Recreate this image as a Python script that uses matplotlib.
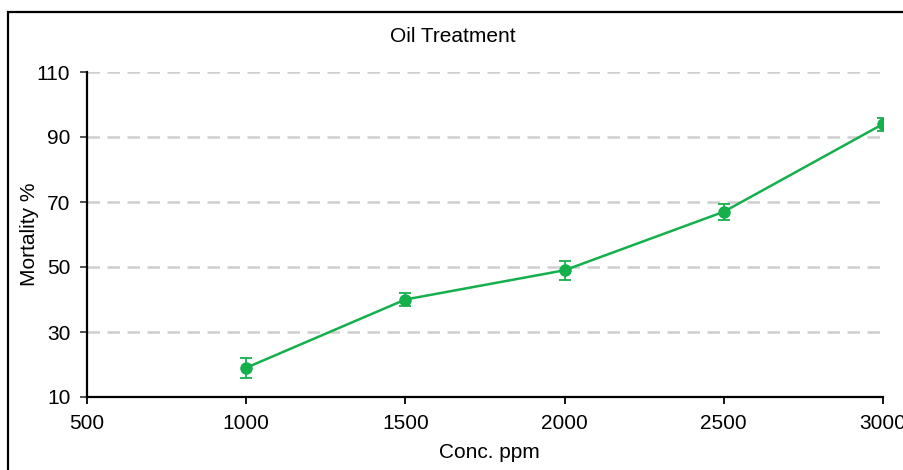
import matplotlib.pyplot as plt
from matplotlib.patches import Rectangle

plt.rcParams['font.family'] = ['Liberation Sans', 'DejaVu Sans']

# data
conc = [1000, 1500, 2000, 2500, 3000]
mortality = [19, 40, 49, 67, 94]
err = [3, 2, 3, 2.5, 2]
yticks = [10, 30, 50, 70, 90, 110]
xticks = [500, 1000, 1500, 2000, 2500, 3000]

green = '#14b04c'

fig = plt.figure(figsize=(9.04, 4.70), dpi=100)
ax = fig.add_axes([87/904, 1 - 397/470, (883 - 87)/904, (397 - 72)/470])

# grey dashed grid lines (not at the bottom)
for y in yticks[1:]:
    ax.axhline(y, color='#cfcfcf', lw=1.8, linestyle=(0, (5.0, 3.0)), zorder=1)

ax.errorbar(conc, mortality, yerr=err, color=green, lw=1.8, marker='o', markersize=8,
            capsize=4.5, elinewidth=1.3, capthick=1.3, zorder=3)

ax.set_xlim(500, 3000)
ax.set_ylim(10, 110)
ax.set_xticks(xticks)
ax.set_yticks(yticks)
ax.spines['top'].set_visible(False)
ax.spines['right'].set_visible(False)
ax.spines['left'].set_linewidth(1.6)
ax.spines['bottom'].set_linewidth(1.6)
ax.tick_params(axis='x', direction='out', length=5, width=1.3, labelsize=15, pad=7)
ax.tick_params(axis='y', direction='out', length=5, width=1.3, color='#444444', labelsize=15, pad=7)
for lab in ax.get_xticklabels() + ax.get_yticklabels():
    lab.set_clip_on(False)

ax.set_xlabel('Conc. ppm', fontsize=15)
ax.set_ylabel('Mortality %', fontsize=15)
ax.xaxis.set_label_coords(0.505, (397 - 453) / 325)
ax.yaxis.set_label_coords((30 - 87) / 796, 0.5)
ax.xaxis.label.set_va('center')
ax.yaxis.label.set_va('center')
fig.text(453/904, 1 - 36/470, 'Oil Treatment', fontsize=15, ha='center', va='center')

# outer black frame (cropped on the right and bottom)
fig.patches.append(Rectangle((8/904, -0.2), 1.2, 1 - 12/470 + 0.2, transform=fig.transFigure,
                             fill=False, edgecolor='black', lw=1.6))

fig.savefig('out.png', dpi=100)
